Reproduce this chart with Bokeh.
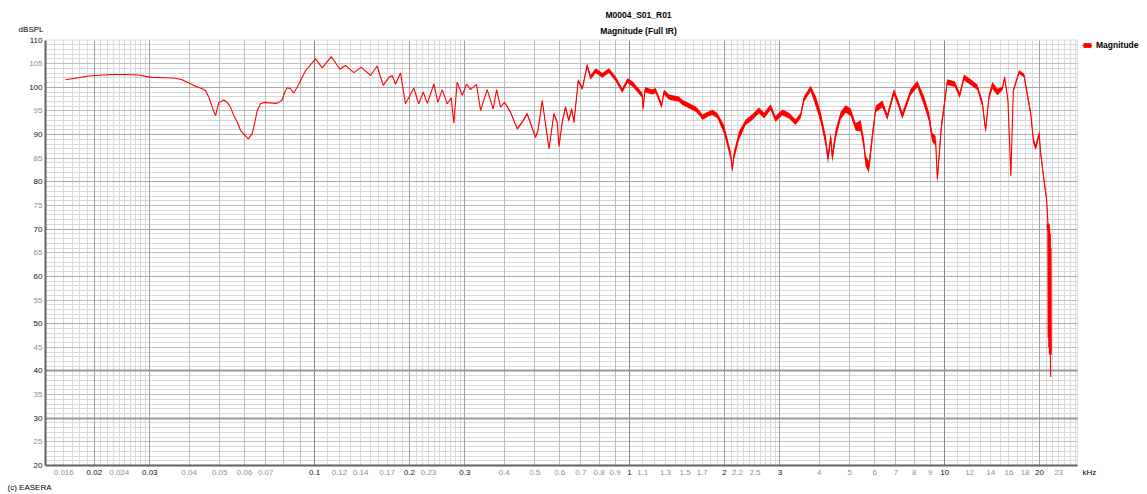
import math
import numpy as np
from bokeh.plotting import figure
from bokeh.models import (Range1d, FixedTicker, Grid, Label, Legend, LegendItem,
                          ColumnDataSource, LogAxis, LinearAxis, BoxAnnotation)
from bokeh.embed import file_html
from bokeh.resources import INLINE

# ---------------- data ----------------
# low-frequency part of the trace (kHz, dBSPL)
lf_khz = [
    0.0162, 0.0192, 0.02066, 0.0228, 0.02512, 0.0277, 0.02907, 0.0305, 0.03365, 0.0362,
    0.0380, 0.0399, 0.0419, 0.04398, 0.0451, 0.04619, 0.04735, 0.0485, 0.0497, 0.0515,
    0.05283, 0.0541, 0.05545, 0.0569, 0.05822, 0.0589, 0.0616, 0.0634, 0.06466, 0.0658,
    0.06739, 0.0690, 0.0752, 0.07705, 0.0789, 0.0805, 0.0819, 0.0839, 0.08536, 0.0860,
    0.0892, 0.0914, 0.0936,
]
lf_db = [
    101.6, 102.4, 102.55, 102.7, 102.7, 102.6, 102.3, 102.1, 102.0, 101.9,
    101.6, 100.9, 100.2, 99.7, 99.3, 97.9, 95.8, 94.0, 96.8, 97.3,
    96.8, 95.8, 94.0, 92.6, 90.9, 90.5, 89.1, 90.2, 92.6, 95.1,
    96.5, 96.8, 96.6, 96.8, 97.3, 99.0, 99.9, 99.7, 99.0, 98.8,
    100.7, 102.1, 103.5,
]
# mid part
mid_khz = [
    0.1007, 0.1058, 0.1130, 0.1203, 0.1254, 0.1333, 0.1407, 0.1506, 0.1580, 0.1652,
    0.1722, 0.1765, 0.1808, 0.1875, 0.1944, 0.2066, 0.2143, 0.2213, 0.2280, 0.2392,
    0.2463, 0.2543, 0.2636, 0.2715, 0.2768, 0.2836, 0.2943, 0.3040, 0.3126, 0.3266,
    0.3365, 0.3532, 0.3690, 0.3783, 0.3894, 0.4010, 0.4190, 0.4400, 0.4560, 0.4730,
    0.5030, 0.5120, 0.5280, 0.5550, 0.5750, 0.5890, 0.5970, 0.6110, 0.6260, 0.6410,
    0.6550, 0.6660, 0.6870, 0.7080,
]
mid_db = [
    106.0, 104.1, 106.5, 103.8, 104.6, 103.1, 104.2, 102.5, 104.5, 100.4,
    102.1, 102.5, 100.7, 103.0, 96.5, 99.8, 96.5, 99.0, 96.6, 100.7,
    96.8, 99.5, 96.5, 97.8, 92.4, 101.1, 98.3, 100.7, 99.5, 100.6,
    95.1, 99.5, 95.4, 99.5, 95.8, 96.8, 94.7, 91.2, 92.6, 94.4,
    89.4, 90.9, 97.2, 87.0, 94.4, 92.6, 87.5, 92.6, 95.8, 93.0,
    95.4, 92.6, 101.4, 99.7,
]
# high-frequency part
hf_khz = [
    0.733, 0.752, 0.780, 0.819, 0.860, 0.903, 0.948, 0.984, 1.021, 1.097,
    1.103, 1.120, 1.180, 1.210, 1.264, 1.285, 1.334, 1.434, 1.470, 1.621,
    1.660, 1.702, 1.786, 1.831, 1.899, 1.992, 2.043, 2.093, 2.119, 2.144,
    2.172, 2.225, 2.336, 2.452, 2.575, 2.671, 2.804, 2.905, 3.055, 3.206,
    3.364, 3.489, 3.575, 3.756, 3.901, 4.040, 4.190, 4.263, 4.350, 4.399,
    4.510, 4.675, 4.850, 5.030, 5.220, 5.410, 5.540, 5.610, 5.750, 5.890,
    6.040, 6.350, 6.575, 6.900, 7.110, 7.340, 7.800, 8.190, 8.590, 8.920,
    9.130, 9.360, 9.480, 9.760, 10.19, 10.76, 11.16, 11.51, 12.09, 12.70,
    13.18, 13.49, 13.82, 14.17, 14.69, 15.24, 15.50, 15.88, 16.22, 16.52,
    17.22, 17.86, 18.28, 18.76, 19.13, 19.45, 19.95, 20.18, 20.67, 21.08,
    21.28, 21.40, 21.45, 21.50, 21.55, 21.60, 21.65, 21.70,
]
hf_db = [
    104.6, 102.1, 103.5, 102.5, 103.5, 101.8, 99.3, 101.4, 100.7, 98.3,
    95.5, 99.5, 99.0, 99.3, 96.1, 99.0, 97.9, 97.5, 96.8, 95.4,
    94.7, 93.7, 94.4, 94.7, 94.0, 91.2, 88.4, 85.6, 82.7, 85.6,
    87.0, 89.8, 92.6, 93.7, 95.1, 94.0, 95.8, 93.3, 94.7, 94.0,
    92.6, 94.0, 97.5, 99.7, 97.0, 93.7, 88.7, 84.9, 89.4, 85.2,
    90.1, 94.0, 95.4, 94.7, 91.6, 91.9, 88.0, 84.5, 83.1, 89.4,
    95.4, 96.5, 93.7, 99.0, 96.8, 94.0, 99.0, 100.7, 97.2, 93.7,
    89.4, 88.7, 80.6, 91.6, 101.1, 100.7, 98.3, 102.1, 101.1, 100.0,
    96.5, 90.9, 97.9, 100.4, 99.0, 99.7, 102.1, 97.2, 81.3, 99.3,
    103.2, 102.5, 98.6, 94.4, 88.7, 87.3, 90.2, 85.9, 80.3, 76.0,
    71.1, 69.5, 47.0, 69.0, 45.0, 66.0, 43.5, 38.7,
]
# half-thickness of the noisy trace (dB), per frequency band (edges in kHz)
fuzz_edges_khz = [0.41, 0.6, 0.72, 1.0, 1.96, 2.3, 3.85, 4.6, 5.35, 6.0, 8.4,
                  10.0, 13.1, 15.0, 18.0, 21.35, 21.68]
fuzz_half_db = [0, 0.2, 0.35, 0.5, 0.55, 0.9, 0.6, 1.1, 0.8, 1.2, 0.7, 1.0,
                0.6, 0.7, 0.4, 0.6, 0.3, 0]

x_dark_ticks = [0.02, 0.03, 0.1, 0.2, 0.3, 1, 2, 3, 10, 20]
x_dark_labels = ["0.02", "0.03", "0.1", "0.2", "0.3", "1", "2", "3", "10", "20"]
x_gray_ticks = [0.016, 0.024, 0.04, 0.05, 0.06, 0.07, 0.12, 0.14, 0.17, 0.23,
                0.4, 0.5, 0.6, 0.7, 0.8, 0.9, 1.1, 1.3, 1.5, 1.7, 2.2, 2.5,
                4, 5, 6, 7, 8, 9, 12, 14, 16, 18, 23]
x_gray_labels = ["0.016", "0.024", "0.04", "0.05", "0.06", "0.07", "0.12", "0.14",
                 "0.17", "0.23", "0.4", "0.5", "0.6", "0.7", "0.8", "0.9", "1.1",
                 "1.3", "1.5", "1.7", "2.2", "2.5", "4", "5", "6", "7", "8", "9",
                 "12", "14", "16", "18", "23"]
y_dark_ticks = [20, 30, 40, 50, 60, 70, 80, 90, 100, 110]
y_gray_ticks = [25, 35, 45, 55, 65, 75, 85, 95, 105]

X_MIN, X_MAX = 0.014, 26.4     # kHz shown by the plot area
Y_MIN, Y_MAX = 20, 110         # dBSPL shown by the plot area

freq_khz = lf_khz + mid_khz + hf_khz
spl_db = lf_db + mid_db + hf_db
assert len(freq_khz) == len(spl_db)
assert len(fuzz_half_db) == len(fuzz_edges_khz) + 1

# ---------------- layout: plot area inside a full-canvas frame ----------------
W, H = 1147, 494
PL, PR, PT, PB = 45, 1077, 39.5, 465      # plot-area edges on the canvas (px)
dpp = (math.log10(X_MAX) - math.log10(X_MIN)) / (PR - PL)
x_lo = 10 ** (math.log10(X_MIN) - PL * dpp)
x_hi = 10 ** (math.log10(X_MAX) + (W - PR) * dpp)
ypp = (Y_MAX - Y_MIN) / (PB - PT)
y_lo = Y_MIN - (H - PB) * ypp
y_hi = Y_MAX + PT * ypp

p = figure(width=W, height=H, x_axis_type="log",
           x_range=Range1d(x_lo, x_hi), y_range=Range1d(y_lo, y_hi),
           output_backend="svg", toolbar_location=None, min_border=0)
p.background_fill_color = "white"
p.border_fill_color = "white"
p.outline_line_color = None
p.grid.visible = False

FONT = "Liberation Sans"
DARK = "#111111"
GRAY = "#8e8e8e"

def style_axis(ax, ticks, labels, color, line_color):
    ax.ticker = FixedTicker(ticks=ticks, minor_ticks=[])
    ax.major_label_overrides = {t: l for t, l in zip(ticks, labels)}
    ax.axis_line_color = line_color
    ax.axis_line_width = 2
    ax.major_tick_in = 0
    ax.major_tick_out = 0
    ax.minor_tick_in = 0
    ax.minor_tick_out = 0
    ax.major_label_text_font = FONT
    ax.major_label_text_font_size = "8px"
    ax.major_label_text_color = color

# x axes (dark labels + gray labels), pinned at the bottom of the plot area
xa = p.xaxis[0]
xa.fixed_location = Y_MIN
xa.bounds = (X_MIN, X_MAX)
style_axis(xa, x_dark_ticks, x_dark_labels, DARK, "#5a5a5a")
xa.major_label_standoff = 4
xg = LogAxis(fixed_location=Y_MIN, bounds=(X_MIN, X_MAX))
style_axis(xg, x_gray_ticks, x_gray_labels, GRAY, None)
xg.major_label_standoff = 4
p.add_layout(xg, "below")

# y axes
ya = p.yaxis[0]
ya.fixed_location = X_MIN
ya.bounds = (Y_MIN, Y_MAX)
style_axis(ya, y_dark_ticks, [str(v) for v in y_dark_ticks], DARK, "#5a5a5a")
ya.major_label_standoff = 3
yg = LinearAxis(fixed_location=X_MIN, bounds=(Y_MIN, Y_MAX))
style_axis(yg, y_gray_ticks, [str(v) for v in y_gray_ticks], GRAY, None)
yg.major_label_standoff = 3
p.add_layout(yg, "left")

# grid lines
decades = [0.01, 0.1, 1, 10]
def inr(v):
    return [round(t, 6) for t in v if X_MIN < t < X_MAX]

v_light = inr([m / 10 * d for d in decades for m in range(11, 30) if m != 20])
v_mid = inr([m * d for d in decades for m in (4, 5, 6, 7, 8, 9)])
v_major = inr([m * d for d in decades for m in (2, 3)])
v_decade = inr(decades)

h_light = [v for v in range(21, 110) if v % 5 != 0]
h_mid = list(range(25, 110, 10))
h_major = list(range(50, 110, 10))
h_thick = [30, 40]

HAS_CROSS = "cross_bounds" in Grid.properties()

def add_grid(dim, ticks, color, width=1):
    kw = dict(dimension=dim, ticker=FixedTicker(ticks=ticks),
              grid_line_color=color, grid_line_width=width)
    if dim == 0:
        kw["bounds"] = (X_MIN, X_MAX)
        if HAS_CROSS:
            kw["cross_bounds"] = (Y_MIN, Y_MAX)
    else:
        kw["bounds"] = (Y_MIN, Y_MAX)
        if HAS_CROSS:
            kw["cross_bounds"] = (X_MIN, X_MAX)
    p.add_layout(Grid(**kw))

add_grid(1, h_light, "#d9d9d9")
add_grid(0, v_light, "#d9d9d9")
add_grid(1, h_mid, "#bebebe")
add_grid(0, v_mid, "#bcbcbc")
add_grid(1, h_major, "#a9a9a9")
add_grid(0, v_major, "#a0a0a0")
add_grid(0, v_decade, "#8a8a8a")
add_grid(1, h_thick, "#999999", 2)

if not HAS_CROSS:
    for kw in (dict(left=x_lo, right=X_MIN), dict(left=X_MAX, right=x_hi),
               dict(bottom=y_lo, top=Y_MIN), dict(bottom=Y_MAX, top=y_hi)):
        p.add_layout(BoxAnnotation(fill_color="white", fill_alpha=1, line_color=None,
                                   level="underlay", **kw))

# plot-area border (top / right)
p.add_layout(BoxAnnotation(left=X_MIN, right=X_MAX, bottom=Y_MIN, top=Y_MAX,
                           fill_alpha=0, line_color="#8a8a8a", line_width=1))

# trace
f_arr = np.array(freq_khz)
fuzz = np.array(fuzz_half_db)[np.searchsorted(fuzz_edges_khz, f_arr, side="right")]
lo = np.array(spl_db) - fuzz
hi = np.array(spl_db) + fuzz
src = ColumnDataSource(dict(f=freq_khz, spl=spl_db, lo=lo, hi=hi))
band = p.varea(x="f", y1="lo", y2="hi", source=src, fill_color="#ff0000", fill_alpha=1.0)
line = p.line(x="f", y="spl", source=src, line_color="#ff0000", line_width=1.1)
tail_src = ColumnDataSource(dict(f=hf_khz[-8:-1], spl=hf_db[-8:-1]))
tail = p.line(x="f", y="spl", source=tail_src, line_color="#ff0000", line_width=3)

legend = Legend(items=[LegendItem(label="Magnitude", renderers=[band, line])],
                location=(1082, 444), orientation="vertical",
                glyph_width=10, glyph_height=6, label_height=6,
                label_standoff=4, padding=0, margin=0, spacing=0,
                border_line_color=None, background_fill_alpha=0,
                label_text_font=FONT, label_text_font_size="8.5px",
                label_text_font_style="bold", label_text_color="#000000")
p.add_layout(legend)

# texts (screen px from the canvas's bottom-left)
def txt(x, y, s, size="8.5px", style="normal", align="left", base="middle", color="#000000"):
    p.add_layout(Label(x=x, y=y, x_units="screen", y_units="screen", text=s,
                       text_align=align, text_baseline=base, text_font=FONT,
                       text_font_size=size, text_font_style=style, text_color=color))

txt(638, 480, "M0004_S01_R01", style="bold", align="center")
txt(638, 464, "Magnitude (Full IR)", style="bold", align="center")
txt(43, 465.5, "dBSPL", size="8px", align="right")
txt(1082, 22.5, "kHz", size="8px")
txt(7, 7, "(c) EASERA", size="8px")

open("out.html", "w").write(file_html(p, INLINE))
